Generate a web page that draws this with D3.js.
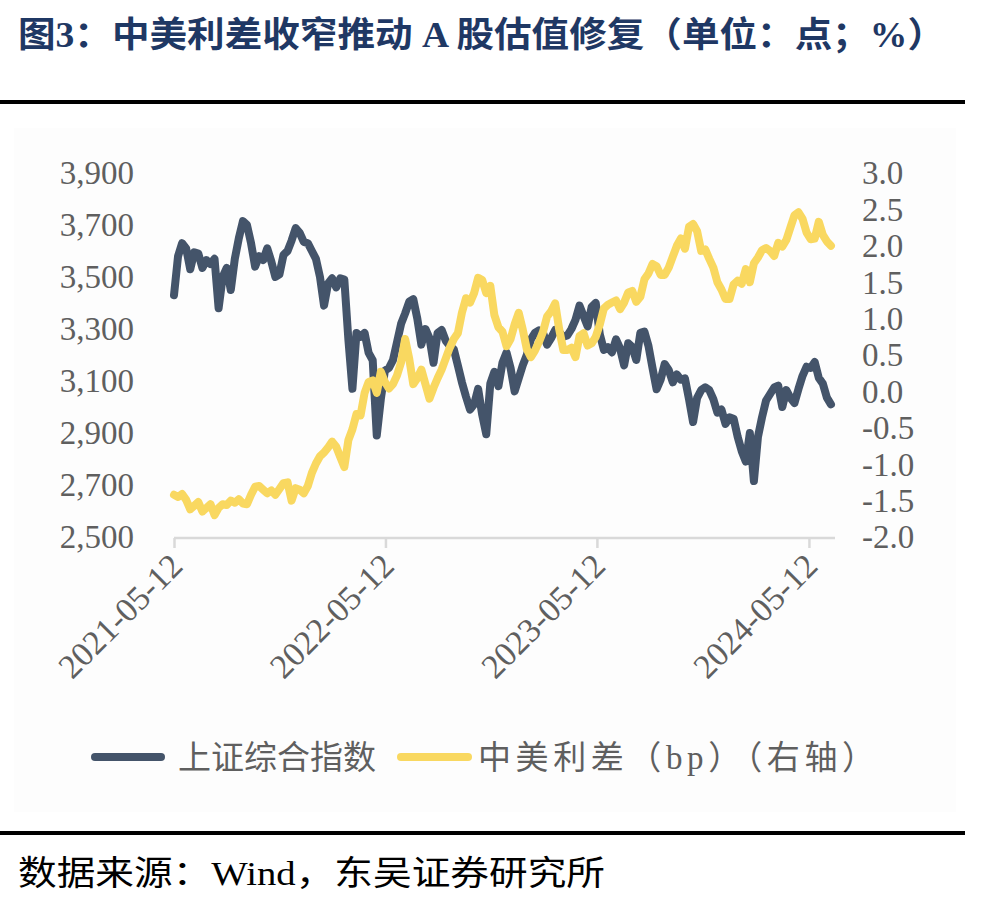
<!DOCTYPE html>
<html><head><meta charset="utf-8">
<script src="https://cdn.jsdelivr.net/npm/d3@7"></script>
<style>body{margin:0;background:#fff;} svg{display:block;}</style>
</head><body><svg id="c" width="985" height="901"></svg>
<script>
// ---- data (weekly readings from the reference) ----
const startDate = "2021-05-12";
const axisEndDate = "2024-06-26";
const tickDates = ["2021-05-12", "2022-05-12", "2023-05-12", "2024-05-12"];
const leftTicks = [2500, 2700, 2900, 3100, 3300, 3500, 3700, 3900];
const rightTicks = [-2.0, -1.5, -1.0, -0.5, 0.0, 0.5, 1.0, 1.5, 2.0, 2.5, 3.0];
const seriesNames = ["上证综合指数", "中美利差（bp）（右轴）"];
const shIndex = [3430,3580,3630,3610,3530,3595,3590,3535,3565,3550,3570,3380,3500,3535,3450,3570,3650,3715,3700,3630,
3540,3580,3565,3610,3560,3500,3510,3585,3600,3640,3688,3670,3635,3630,3600,3570,3500,3390,3475,3495,
3460,3495,3490,3260,3070,3285,3270,3285,3208,3180,2890,3030,3140,3150,3180,3250,3320,3360,3405,3415,
3340,3240,3300,3265,3170,3285,3296,3255,3235,3222,3160,3095,3040,2990,3010,3070,2970,2895,3090,3135,
3080,3170,3210,3150,3060,3110,3160,3200,3260,3285,3295,3285,3240,3265,3296,3288,3270,3275,3300,3335,
3390,3350,3310,3385,3400,3280,3220,3230,3210,3260,3225,3160,3245,3231,3181,3285,3290,3235,3150,3068,
3105,3165,3142,3095,3125,3105,3110,3030,2942,3035,3065,3076,3065,3030,2978,2990,2935,2960,2955,2885,
2830,2790,2900,2715,2885,2960,3025,3050,3075,3082,3000,3065,3035,3015,3070,3120,3155,3150,3173,3112,
3090,3036,3010];
const spread = [-1.42,-1.45,-1.41,-1.49,-1.62,-1.57,-1.52,-1.65,-1.60,-1.55,-1.70,-1.60,-1.55,-1.56,-1.50,-1.53,-1.48,-1.54,-1.55,-1.42,
-1.31,-1.30,-1.35,-1.40,-1.36,-1.42,-1.34,-1.26,-1.25,-1.50,-1.33,-1.35,-1.40,-1.30,-1.12,-0.99,-0.89,-0.84,-0.77,-0.69,
-0.76,-0.90,-1.04,-0.67,-0.52,-0.31,-0.33,-0.02,0.13,0.15,-0.02,0.27,0.13,0.04,0.10,0.22,0.40,0.72,0.45,0.10,
0.18,0.30,0.10,-0.10,0.05,0.18,0.30,0.45,0.60,0.72,0.80,1.08,1.28,1.22,1.35,1.56,1.53,1.35,1.45,1.05,
0.88,0.82,0.62,0.72,0.92,1.08,0.85,0.58,0.47,0.56,0.68,0.82,1.03,1.10,1.21,0.85,0.57,0.57,0.60,0.47,
0.76,0.80,0.63,0.66,0.75,0.92,1.14,1.19,1.22,1.25,1.13,1.22,1.36,1.38,1.23,1.30,1.54,1.62,1.75,1.72,
1.60,1.60,1.70,1.85,2.00,2.10,1.96,2.26,2.30,2.20,1.93,1.95,1.82,1.70,1.50,1.40,1.27,1.27,1.47,1.52,
1.48,1.68,1.50,1.76,1.84,1.94,1.97,1.93,1.86,2.04,1.99,2.08,2.25,2.42,2.46,2.37,2.18,2.09,2.10,2.33,
2.15,2.06,2.00];

// ---- chart ----
const parse = d3.timeParse("%Y-%m-%d");
const t0 = parse(startDate);
const dates = shIndex.map((_, i) => d3.timeDay.offset(t0, 7 * i));

const svg = d3.select("#c");
const numFont = "'Liberation Serif','Times New Roman',serif";
const cjkFont = "'Liberation Serif','Noto Sans CJK SC',serif";
const navy = "#44546a", gold = "#f9d860", grey = "#5f5f5f";

const L = 174, R = 835, T = 173, B = 537;
const x = d3.scaleTime().domain([t0, parse(axisEndDate)]).range([L, R]);
const yL = d3.scaleLinear().domain([2500, 3900]).range([B, T]);
const yR = d3.scaleLinear().domain([-2, 3]).range([B, T]);

// faint panel background
svg.append("rect").attr("x", 14).attr("y", 128).attr("width", 942).attr("height", 684).attr("fill", "#fdfdfd");

// title
svg.append("text").attr("x", 18).attr("y", 47)
  .attr("font-family", cjkFont).attr("font-weight", "bold").attr("font-size", 35)
  .attr("fill", "#1f3864").attr("textLength", 927).attr("lengthAdjust", "spacingAndGlyphs")
  .text("图3：中美利差收窄推动 A 股估值修复（单位：点；%）");

// rules
svg.append("rect").attr("x", 0).attr("y", 100).attr("width", 965).attr("height", 4).attr("fill", "#000");
svg.append("rect").attr("x", 0).attr("y", 831).attr("width", 965).attr("height", 4).attr("fill", "#000");

// left axis
const gL = svg.append("g").attr("transform", `translate(${L - 40},0)`)
  .call(d3.axisLeft(yL).tickValues(leftTicks).tickFormat(d3.format(",")).tickSize(0).tickPadding(0));
gL.select(".domain").remove();
gL.selectAll("text").attr("font-family", numFont).attr("font-size", 33).attr("fill", grey).attr("dy", "0.33em");

// right axis
const gR = svg.append("g").attr("transform", `translate(862,0)`)
  .call(d3.axisRight(yR).tickValues(rightTicks).tickFormat(d3.format(".1f")).tickSize(0).tickPadding(0));
gR.select(".domain").remove();
gR.selectAll("text").attr("font-family", numFont).attr("font-size", 33).attr("fill", grey).attr("dy", "0.33em")
  .text(d => d3.format(".1f")(d).replace("−", "-"));

// x axis
const gX = svg.append("g").attr("transform", `translate(0,${B + 1})`)
  .call(d3.axisBottom(x).tickValues(tickDates.map(parse)).tickFormat(d3.timeFormat("%Y-%m-%d")).tickSize(10).tickPadding(0));
gX.select(".domain").attr("stroke", "#d9d9d9").attr("stroke-width", 2.5).attr("d", `M${L},0H${R}`);
gX.selectAll(".tick line").attr("stroke", "#d9d9d9").attr("stroke-width", 2.5);
gX.selectAll(".tick text").attr("font-family", numFont).attr("font-size", 34).attr("fill", grey)
  .attr("text-anchor", "end").attr("dy", 0).attr("y", 0)
  .attr("transform", "translate(10,30) rotate(-45)");

// lines
const lineL = d3.line().x((d, i) => x(dates[i])).y(d => yL(d));
const lineR = d3.line().x((d, i) => x(dates[i])).y(d => yR(d));
svg.append("path").datum(shIndex).attr("d", lineL).attr("fill", "none").attr("stroke", navy)
  .attr("stroke-width", 8).attr("stroke-linejoin", "round").attr("stroke-linecap", "round");
svg.append("path").datum(spread).attr("d", lineR).attr("fill", "none").attr("stroke", gold)
  .attr("stroke-width", 8).attr("stroke-linejoin", "round").attr("stroke-linecap", "round");

// legend
const leg = [{x1: 95, x2: 161, tx: 178, c: navy, tl: null}, {x1: 401, x2: 468, tx: 478, c: gold, tl: 397}];
leg.forEach((l, i) => {
  svg.append("line").attr("x1", l.x1).attr("x2", l.x2).attr("y1", 757).attr("y2", 757)
    .attr("stroke", l.c).attr("stroke-width", 8).attr("stroke-linecap", "round");
  const t = svg.append("text").attr("x", l.tx).attr("y", 769).attr("font-family", cjkFont)
    .attr("font-size", 33).attr("fill", grey).text(seriesNames[i]);
  if (l.tl) t.attr("textLength", l.tl).attr("lengthAdjust", "spacing");
});

// source
svg.append("text").attr("x", 18).attr("y", 885).attr("font-family", cjkFont).attr("font-size", 34)
  .attr("fill", "#000").attr("textLength", 587).attr("lengthAdjust", "spacingAndGlyphs")
  .text("数据来源：Wind，东吴证券研究所");
</script></body></html>
